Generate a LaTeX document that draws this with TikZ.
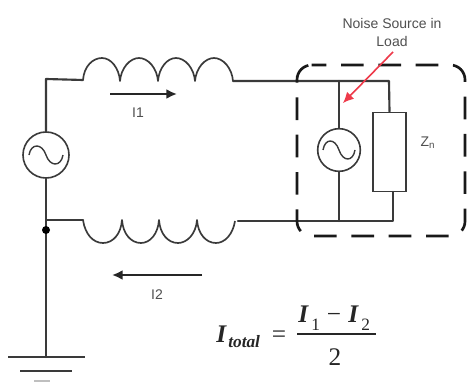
\documentclass[tikz,border=0pt]{standalone}
\usepackage{fontspec}
\setmainfont{Liberation Sans}
\newfontfamily\mathserif{Liberation Serif}
\usetikzlibrary{arrows.meta}
\definecolor{wirec}{HTML}{3A3A3A}
\definecolor{labelc}{HTML}{505050}
\definecolor{noisered}{HTML}{EE3A4A}
\tikzset{
  x=0.75pt,y=-0.75pt,
  wire/.style={draw=wirec,line width=1.6pt,line cap=round,line join=round},
  thin wire/.style={draw=wirec,line width=1.25pt,line join=round},
  srcnode/.style={circle,draw=wirec,line width=1.2pt,fill=white,inner sep=0pt},
  zbox/.style={rectangle,draw=wirec,line width=1.2pt,fill=white,inner sep=0pt,minimum width=24.5pt,minimum height=59.5pt},
  lab/.style={inner sep=0pt,text=labelc,font=\fontsize{10.5}{13.5}\selectfont,align=center},
  eq/.style={inner sep=0pt,text=black!85,font=\mathserif\itshape\fontsize{19}{21}\selectfont},
  eqsub/.style={inner sep=0pt,text=black!85,font=\mathserif\itshape\fontsize{13}{15}\selectfont},
  flow/.style={draw=black!85,line width=1.6pt,-{Latex[length=8pt,width=7.5pt]}},
}
\begin{document}
\begin{tikzpicture}
\useasboundingbox (0,0) rectangle (470,381);
\fill[white] (0,0) rectangle (470,381);
% named points
\coordinate (tl) at (46,79);
\coordinate (c1a) at (83,80);
\coordinate (c1b) at (233,81);
\coordinate (tj) at (339,81);
\coordinate (tr) at (389,81);
\coordinate (bj) at (46,220);
\coordinate (c2a) at (83,220);
\coordinate (c2b) at (238,221);
\coordinate (bm) at (339,221);
\coordinate (br) at (393,221);
\coordinate (gnd) at (46,357);
\coordinate (g1a) at (8,357);
\coordinate (g1b) at (85,357);
\coordinate (g2a) at (20,371);
\coordinate (g2b) at (72,371);
\coordinate (g3a) at (34,381);
\coordinate (g3b) at (50,381);
% sources and load
\node[srcnode,minimum size=34.5pt] (s1) at (46,155) {};
\node[srcnode,minimum size=32pt] (s2) at (339,150) {};
\node[zbox] (zl) at (389.5,152) {};
% wires
\draw[wire] (s1.north) -- (tl) -- (c1a);
\draw[wire] (s1.south) -- (bj) -- (c2a);
\draw[wire] (bj) -- (gnd);
\fill[black] (46,230) circle (3pt);
\draw[wire] (c1b) -- (tr) -- (zl.north);
\draw[wire] (tj) -- (s2.north);
\draw[wire] (s2.south) -- (bm);
\draw[wire] (c2b) -- (br) -- (393,192);
% top coil
\draw[thin wire] (c1a) .. controls (84,66) and (93,58) .. (102,58) .. controls (111,58) and (119,68) .. (120,81)
  .. controls (121,68) and (130,58) .. (139,58) .. controls (148,58) and (157,68) .. (158,81)
  .. controls (159,68) and (167,58) .. (176,58) .. controls (185,58) and (194,68) .. (195,81)
  .. controls (196,68) and (205,58) .. (214,58) .. controls (223,58) and (232,68) .. (c1b);
% bottom coil
\draw[thin wire] (c2a) .. controls (85,234) and (93,243) .. (103,243) .. controls (113,243) and (121,234) .. (122,220)
  .. controls (123,234) and (131,243) .. (141,243) .. controls (150,243) and (158,234) .. (159,220)
  .. controls (160,234) and (168,243) .. (178,243) .. controls (187,243) and (196,234) .. (197,220)
  .. controls (198,234) and (206,243) .. (216,243) .. controls (225,243) and (233,234) .. (235,221);
% sine glyphs
\draw[wirec,line width=1.05pt] (29,155) .. controls (31,143) and (42,143) .. (46,155) .. controls (50,167) and (61,167) .. (63,155);
\draw[wirec,line width=1.05pt] (323,150) .. controls (325,138) and (335,138) .. (339,150) .. controls (343,162) and (353,162) .. (355,150);
% ground
\draw[thin wire] (g1a) -- (g1b);
\draw[thin wire] (g2a) -- (g2b);
\draw[draw=black!25,line width=1pt] (g3a) -- (g3b);
% load enclosure
\draw[draw=black!90,line width=2pt,rounded corners=11pt,dash pattern=on 17pt off 11pt,dash phase=6pt]
  (297,65) -- (465,65) -- (465,236) -- (297,236) -- cycle;
% current arrows
\coordinate (i1a) at (110,94); \coordinate (i1b) at (177,94);
\coordinate (i2a) at (202,275); \coordinate (i2b) at (112,275);
\draw[flow] (i1a) -- (i1b);
\draw[flow] (i2a) -- (i2b);
\node[lab] (li1) at (138,113) {I1};
\node[lab] (li2) at (157,295) {I2};
% noise label
\node[lab] (noise) at (392,32) {Noise Source in\\Load};
\coordinate (ntail) at (393,52);
\coordinate (nhead) at (343,103);
\draw[draw=noisered,line width=1.2pt,-{Latex[length=8pt,width=7.5pt]}] (ntail) -- (nhead);
\node[lab] (zn) at (428,143) {Z\textsubscript{n}};
% equation
\node[eq,anchor=base west] (itot) at (216,342) {\bfseries I};
\node[eqsub,anchor=base west] (tot) at (228,347) {\bfseries total};
\node[eq,anchor=base] (eqs) at (279,342) {\upshape =};
\node[eq,anchor=base west] (n1) at (298,322) {\bfseries I};
\node[eqsub,anchor=base west] (n1s) at (311,330) {\upshape 1};
\node[eq,anchor=base] (nm) at (334,322) {\upshape −};
\node[eq,anchor=base west] (n2) at (348,322) {\bfseries I};
\node[eqsub,anchor=base west] (n2s) at (361,330) {\upshape 2};
\coordinate (fa) at (297,334); \coordinate (fb) at (376,334);
\draw[draw=black!85,line width=1.2pt] (fa) -- (fb);
\node[eq,anchor=base] (den) at (335,365) {\upshape 2};
\end{tikzpicture}
\end{document}
